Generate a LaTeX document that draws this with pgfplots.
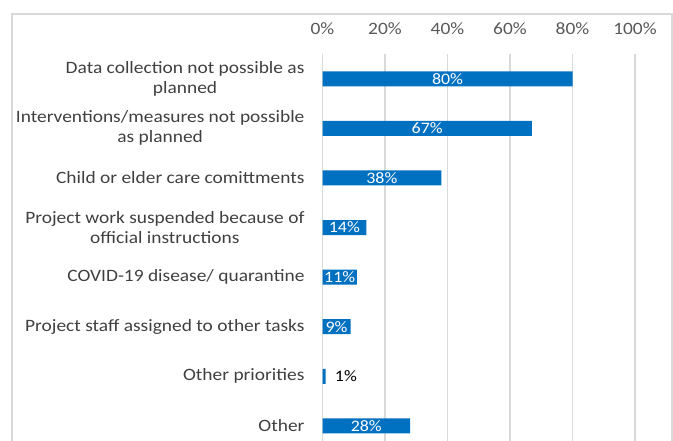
\documentclass[border=0pt]{standalone}
\usepackage{pgfplots}
\pgfplotsset{compat=1.18}
\usepackage{fontspec}
\setmainfont{Carlito}[FakeStretch=1.12]
\definecolor{barblue}{HTML}{0070C0}
\definecolor{gridgray}{HTML}{D9D9D9}
\definecolor{ticktext}{HTML}{595959}
\definecolor{cattext}{HTML}{404040}
\begin{document}
\begin{tikzpicture}
\clip (0pt,0pt) rectangle (504.75pt,-330.75pt);
\useasboundingbox (0pt,0pt) rectangle (504.75pt,-330.75pt);
\fill[white] (0pt,0pt) rectangle (504.75pt,-330.75pt);
\draw[gridgray, line width=1pt] (9pt,-10.5pt) rectangle (504pt,-360pt);
\begin{axis}[
  at={(241.875pt,-40.5pt)}, anchor=north west,
  scale only axis, width=234.375pt, height=297.5pt,
  xmin=0, xmax=100, ymin=-0.5, ymax=7.5, y dir=reverse,
  axis line style={draw=none},
  major tick length=0pt,
  xmajorgrids, major grid style={gridgray, line width=1.1pt},
  xtick={0,20,40,60,80,100},
  xticklabels={0\%,20\%,40\%,60\%,80\%,100\%},
  xticklabel pos=top,
  xticklabel style={font=\fontsize{13}{15}\selectfont, text=ticktext, yshift=11pt},
  ytick={0,...,7},
  yticklabels={Data collection not possible as\\planned,
    Interventions/measures not possible\\as planned,
    Child or elder care comittments,
    Project work suspended because of\\official instructions,
    COVID-19 disease/ quarantine,
    Project staff assigned to other tasks,
    Other priorities,
    Other},
  yticklabel style={font=\fontsize{13}{15}\selectfont, text=cattext, align=center, xshift=-10pt},
  /pgf/number format/assume math mode=true,
  clip=false,
]
\addplot[xbar, bar width=11.25pt, bar shift=0pt, fill=barblue, draw=none] coordinates {
  (80,0) (67,1) (38,2) (14,3) (11,4) (9,5) (1,6) (28,7)};
\addplot[draw=none, mark=none, nodes near coords, point meta=explicit symbolic,
  every node near coord/.style={font=\fontsize{12}{14}\selectfont, text=white, anchor=center, inner sep=0pt}]
  coordinates {(40,0) [80\%] (33.5,1) [67\%] (19,2) [38\%] (7,3) [14\%] (5.5,4) [11\%] (4.5,5) [9\%] (14,7) [28\%]};
\addplot[draw=none, mark=none, nodes near coords, point meta=explicit symbolic,
  every node near coord/.style={font=\fontsize{12}{14}\selectfont, text=black, anchor=center, inner sep=0pt}]
  coordinates {(7.5,6) [1\%]};
\end{axis}
\end{tikzpicture}
\end{document}
